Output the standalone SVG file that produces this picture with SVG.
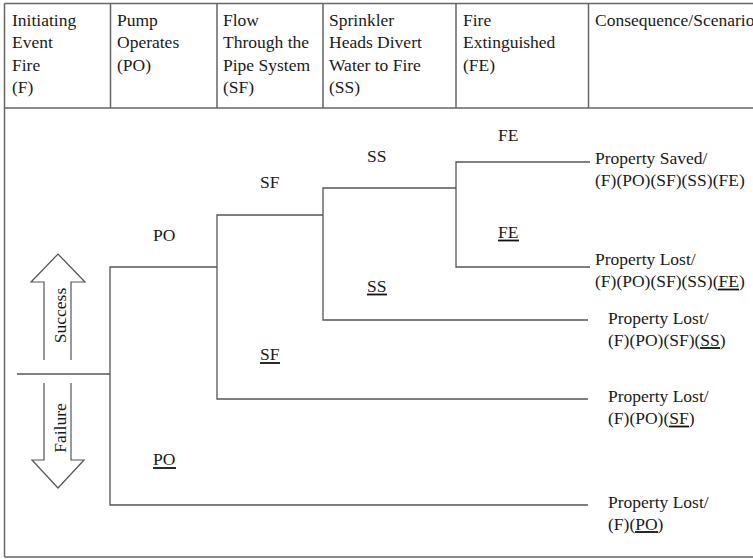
<svg xmlns="http://www.w3.org/2000/svg" width="753" height="559" viewBox="0 0 753 559">
<style>
text{font-family:"Liberation Serif","Times New Roman",serif;font-size:17.5px;fill:#1a1a1a}
.frame{stroke:#666;stroke-width:1.5;fill:none}
.br{stroke:#555;stroke-width:1.3;fill:none}
.ul{stroke:#111;stroke-width:1.8}
.arr{stroke:#555;stroke-width:1.2;fill:none}
</style>
<rect width="753" height="559" fill="#fff"/>
<g id="frame">
<path class="frame" d="M4.5 3.5H760M4.5 108H760M4.5 557H760M4.5 3.5V557M110.5 3.5V108M217 3.5V108M323 3.5V108M456 3.5V108M588.5 3.5V108"/>
</g>
<g id="header">
<text><tspan x="12" y="25.5">Initiating</tspan><tspan x="12" y="48">Event</tspan><tspan x="12" y="70.5">Fire</tspan><tspan x="12" y="93">(F)</tspan></text>
<text><tspan x="117" y="25.5">Pump</tspan><tspan x="117" y="48">Operates</tspan><tspan x="117" y="70.5">(PO)</tspan></text>
<text><tspan x="223" y="25.5">Flow</tspan><tspan x="223" y="48">Through the</tspan><tspan x="223" y="70.5">Pipe System</tspan><tspan x="223" y="93">(SF)</tspan></text>
<text><tspan x="329" y="25.5">Sprinkler</tspan><tspan x="329" y="48">Heads Divert</tspan><tspan x="329" y="70.5">Water to Fire</tspan><tspan x="329" y="93">(SS)</tspan></text>
<text><tspan x="463" y="25.5">Fire</tspan><tspan x="463" y="48">Extinguished</tspan><tspan x="463" y="70.5">(FE)</tspan></text>
<text x="595" y="25.5">Consequence/Scenario</text>
</g>
<g id="legend">
<polyline class="arr" points="44,360 44,282 31,282 58,254 85,282 71,282 71,360"/>
<polyline class="arr" points="44,383 44,460 32,460 58,488 84,460 71,460 71,383"/>
<text transform="translate(66 315.5) rotate(-90)" text-anchor="middle">Success</text>
<text transform="translate(66 428) rotate(-90)" text-anchor="middle">Failure</text>
</g>
<g id="connectors">
<path class="br" d="M17 374H110"/>
<path class="br" d="M110 374V267H217M110 374V505H588"/>
<path class="br" d="M217 267V215H323M217 267V399H588"/>
<path class="br" d="M323 215V188H456M323 215V320H588"/>
<path class="br" d="M456 188V162H590M456 188V267H590"/>
</g>
<g id="label-PO"><text x="153" y="241">PO</text></g>
<g id="label-SF"><text x="260" y="188">SF</text></g>
<g id="label-SS"><text x="367" y="162">SS</text></g>
<g id="label-FE"><text x="498" y="141">FE</text></g>
<g id="label-FE-fail"><text x="498" y="237.5">FE</text><line class="ul" x1="498" y1="240.5" x2="519" y2="240.5"/></g>
<g id="label-SS-fail"><text x="367" y="291.5">SS</text><line class="ul" x1="367" y1="294.5" x2="387" y2="294.5"/></g>
<g id="label-SF-fail"><text x="260" y="360">SF</text><line class="ul" x1="260" y1="363" x2="280" y2="363"/></g>
<g id="label-PO-fail"><text x="153" y="465">PO</text><line class="ul" x1="153" y1="468" x2="176" y2="468"/></g>
<g id="outcome-1"><text><tspan x="595" y="163.5">Property Saved/</tspan><tspan x="595" y="185.5">(F)(PO)(SF)(SS)(FE)</tspan></text></g>
<g id="outcome-2"><text><tspan x="595" y="265">Property Lost/</tspan><tspan x="595" y="287">(F)(PO)(SF)(SS)(FE)</tspan></text><line class="ul" x1="718" y1="289.5" x2="739" y2="289.5"/></g>
<g id="outcome-3"><text><tspan x="608" y="324">Property Lost/</tspan><tspan x="608" y="345.5">(F)(PO)(SF)(SS)</tspan></text><line class="ul" x1="700" y1="348" x2="720" y2="348"/></g>
<g id="outcome-4"><text><tspan x="608" y="402">Property Lost/</tspan><tspan x="608" y="424">(F)(PO)(SF)</tspan></text><line class="ul" x1="669" y1="426.5" x2="689" y2="426.5"/></g>
<g id="outcome-5"><text><tspan x="608" y="508">Property Lost/</tspan><tspan x="608" y="529.5">(F)(PO)</tspan></text><line class="ul" x1="635" y1="532" x2="658" y2="532"/></g>
</svg>
